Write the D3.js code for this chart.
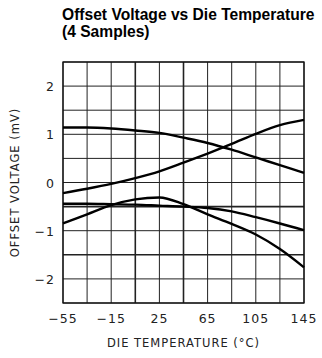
<!DOCTYPE html>
<html>
<head>
<meta charset="utf-8">
<script src="https://cdn.jsdelivr.net/npm/d3@7"></script>
<style>
  body { margin: 0; background: #fff; }
  svg { display: block; }
</style>
</head>
<body>
<div class="chart"></div>
<script>
const temps = [-55, -35, -15, 5, 25, 45, 65, 85, 105, 125, 145];
// offset voltage (mV), 4 samples
const sampleA = [1.14, 1.14, 1.12, 1.08, 1.03, 0.93, 0.82, 0.68, 0.52, 0.36, 0.20];
const sampleB = [-0.22, -0.13, -0.03, 0.09, 0.23, 0.41, 0.60, 0.80, 1.01, 1.19, 1.30];
const sampleC = [-0.85, -0.66, -0.47, -0.35, -0.31, -0.45, -0.66, -0.86, -1.08, -1.38, -1.76];
const sampleD = [-0.44, -0.44, -0.45, -0.46, -0.48, -0.50, -0.53, -0.60, -0.72, -0.85, -0.99];
const xTicks = [-55, -15, 25, 65, 105, 145];
const yTicks = [-2, -1, 0, 1, 2];

const width = 322, height = 358;
const mLeft = 63, mRight = 304, mTop = 62, mBottom = 303;

const svg = d3.select('.chart').append('svg')
    .attr('width', width)
    .attr('height', height);

const x = d3.scaleLinear().domain([-55, 145]).range([mLeft, mRight]);
const y = d3.scaleLinear().domain([-2.5, 2.5]).range([mBottom, mTop]);

// title
svg.append('text')
    .attr('x', 62).attr('y', 20)
    .style('font', 'bold 15.6px "Liberation Sans", Arial, sans-serif')
    .text('Offset Voltage vs Die Temperature');
svg.append('text')
    .attr('x', 62).attr('y', 37)
    .style('font', 'bold 15.6px "Liberation Sans", Arial, sans-serif')
    .text('(4 Samples)');

// grid
const xGrid = d3.range(-55, 146, 20);
const yGrid = d3.range(-2.5, 2.51, 0.5);
const heavyX = [5, 45];
const heavyY = [-0.5, -1.5];

svg.selectAll('.vgrid')
    .data(xGrid)
    .join('line')
    .attr('x1', d => x(d)).attr('x2', d => x(d))
    .attr('y1', mTop).attr('y2', mBottom)
    .attr('stroke', '#222')
    .attr('stroke-width', d => heavyX.includes(d) ? 1.6 : 1);

svg.selectAll('.hgrid')
    .data(yGrid)
    .join('line')
    .attr('x1', mLeft).attr('x2', mRight)
    .attr('y1', d => y(d)).attr('y2', d => y(d))
    .attr('stroke', '#222')
    .attr('stroke-width', d => heavyY.some(h => Math.abs(h - d) < 1e-6) ? 1.6 : 1);

svg.append('rect')
    .attr('x', mLeft).attr('y', mTop)
    .attr('width', mRight - mLeft).attr('height', mBottom - mTop)
    .attr('fill', 'none')
    .attr('stroke', '#111')
    .attr('stroke-width', 1.3);

// curves
const line = d3.line()
    .x((d, i) => x(temps[i]))
    .y(d => y(d))
    .curve(d3.curveMonotoneX);

svg.selectAll('.curve')
    .data([sampleA, sampleB, sampleC, sampleD])
    .join('path')
    .attr('d', line)
    .attr('fill', 'none')
    .attr('stroke', '#000')
    .attr('stroke-width', 2.4);

// tick labels
const tickFont = '12.5px "DejaVu Sans", sans-serif';
const fmt = d => d < 0 ? '\u2212' + Math.abs(d) : String(d);

svg.selectAll('.xlab')
    .data(xTicks)
    .join('text')
    .attr('x', d => x(d)).attr('y', 323)
    .attr('text-anchor', 'middle')
    .style('font', tickFont)
    .style('letter-spacing', '1px')
    .attr('fill', '#222')
    .text(fmt);

svg.selectAll('.ylab')
    .data(yTicks)
    .join('text')
    .attr('x', 55).attr('y', d => y(d) + 5)
    .attr('text-anchor', 'end')
    .style('font', tickFont)
    .attr('fill', '#222')
    .style('letter-spacing', '1px')
    .text(fmt);

// axis titles
svg.append('text')
    .attr('x', (mLeft + mRight) / 2).attr('y', 347)
    .attr('text-anchor', 'middle')
    .style('font', '11.5px "DejaVu Sans", sans-serif')
    .style('letter-spacing', '1px')
    .attr('fill', '#222')
    .text('DIE TEMPERATURE (\u00B0C)');

svg.append('text')
    .attr('transform', `translate(19,${(mTop + mBottom) / 2}) rotate(-90)`)
    .attr('text-anchor', 'middle')
    .style('font', '11.5px "DejaVu Sans", sans-serif')
    .style('letter-spacing', '1px')
    .attr('fill', '#222')
    .text('OFFSET VOLTAGE (mV)');
</script>
</body>
</html>
